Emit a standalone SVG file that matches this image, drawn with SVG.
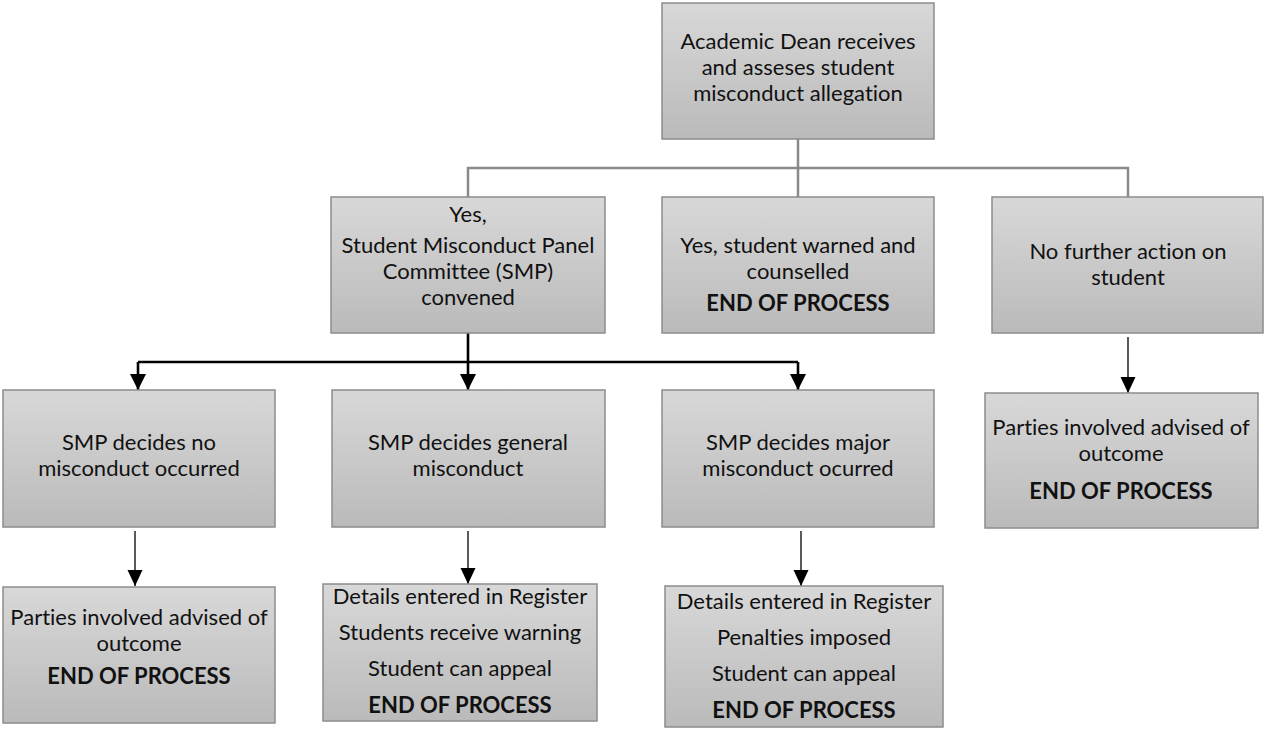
<svg xmlns="http://www.w3.org/2000/svg" width="1264" height="729" viewBox="0 0 1264 729">
<defs>
<linearGradient id="g" x1="0" y1="0" x2="0" y2="1">
<stop offset="0" stop-color="#d8d8d8"/>
<stop offset="1" stop-color="#bababa"/>
</linearGradient>
<marker id="ah" markerUnits="userSpaceOnUse" markerWidth="18" markerHeight="18" viewBox="0 0 18 18" refX="16" refY="9" orient="auto">
<path d="M0 1 L16 9 L0 17 Z" fill="#000"/>
</marker>
<marker id="ahs" markerUnits="userSpaceOnUse" markerWidth="18" markerHeight="18" viewBox="0 0 18 18" refX="16" refY="9" orient="auto">
<path d="M0 1.5 L16 9 L0 16.5 Z" fill="#000"/>
</marker>
</defs>
<style>
.box{fill:url(#g);stroke:#8c8c8c;stroke-width:1.5}
text{font-family:Lato,"Liberation Sans",sans-serif;font-size:22px;fill:#111;text-anchor:middle;font-variant-ligatures:none}
.b{font-weight:bold}
.gray{fill:none;stroke:#8a8a8a;stroke-width:2.5}
.thick{fill:none;stroke:#000;stroke-width:2.6}
.thin{fill:none;stroke:#000;stroke-width:1.3}
</style>
<g id="connectors">
<path class="gray" d="M798 139 V168 M468 197 V168 H1128 V197 M798 168 V197"/>
<path class="thick" d="M468 333 V362"/>
<path class="thick" d="M138 362 H798"/>
<path class="thick" d="M138 362 V390" marker-end="url(#ah)"/>
<path class="thick" d="M468 362 V390" marker-end="url(#ah)"/>
<path class="thick" d="M798 362 V390" marker-end="url(#ah)"/>
<path class="thin" d="M135 531 V586" marker-end="url(#ahs)"/>
<path class="thin" d="M468 531 V584" marker-end="url(#ahs)"/>
<path class="thin" d="M801 531 V586" marker-end="url(#ahs)"/>
<path class="thin" d="M1128 337 V393" marker-end="url(#ahs)"/>
</g>
<g id="n-dean">
<rect class="box" x="662" y="3" width="272" height="136"/>
<text x="798" y="49">Academic Dean receives</text>
<text x="798" y="75">and asseses student</text>
<text x="798" y="101">misconduct allegation</text>
</g>
<g id="n-smp">
<rect class="box" x="331" y="197" width="274" height="136"/>
<text x="468" y="222">Yes,</text>
<text x="468" y="253">Student Misconduct Panel</text>
<text x="468" y="279">Committee (SMP)</text>
<text x="468" y="305">convened</text>
</g>
<g id="n-warned">
<rect class="box" x="662" y="197" width="272" height="136"/>
<text x="798" y="253">Yes, student warned and</text>
<text x="798" y="279">counselled</text>
<text class="b" x="798" y="311">END OF PROCESS</text>
</g>
<g id="n-nofurther">
<rect class="box" x="992" y="197" width="271" height="136"/>
<text x="1128" y="259">No further action on</text>
<text x="1128" y="285">student</text>
</g>
<g id="n-parties-right">
<rect class="box" x="985" y="393" width="273" height="135"/>
<text x="1121" y="435">Parties involved advised of</text>
<text x="1121" y="461">outcome</text>
<text class="b" x="1121" y="499">END OF PROCESS</text>
</g>
<g id="n-nomisconduct">
<rect class="box" x="3" y="390" width="272" height="137"/>
<text x="139" y="450">SMP decides no</text>
<text x="139" y="476">misconduct occurred</text>
</g>
<g id="n-general">
<rect class="box" x="332" y="390" width="273" height="137"/>
<text x="468" y="450">SMP decides general</text>
<text x="468" y="476">misconduct</text>
</g>
<g id="n-major">
<rect class="box" x="662" y="390" width="272" height="137"/>
<text x="798" y="450">SMP decides major</text>
<text x="798" y="476">misconduct ocurred</text>
</g>
<g id="n-parties-left">
<rect class="box" x="3" y="587" width="272" height="136"/>
<text x="139" y="625">Parties involved advised of</text>
<text x="139" y="651">outcome</text>
<text class="b" x="139" y="684">END OF PROCESS</text>
</g>
<g id="n-general-out">
<rect class="box" x="323" y="584" width="274" height="137"/>
<text x="460" y="604">Details entered in Register</text>
<text x="460" y="640">Students receive warning</text>
<text x="460" y="676">Student can appeal</text>
<text class="b" x="460" y="713">END OF PROCESS</text>
</g>
<g id="n-major-out">
<rect class="box" x="665" y="586" width="278" height="141"/>
<text x="804" y="609">Details entered in Register</text>
<text x="804" y="645">Penalties imposed</text>
<text x="804" y="681">Student can appeal</text>
<text class="b" x="804" y="718">END OF PROCESS</text>
</g>
</svg>
